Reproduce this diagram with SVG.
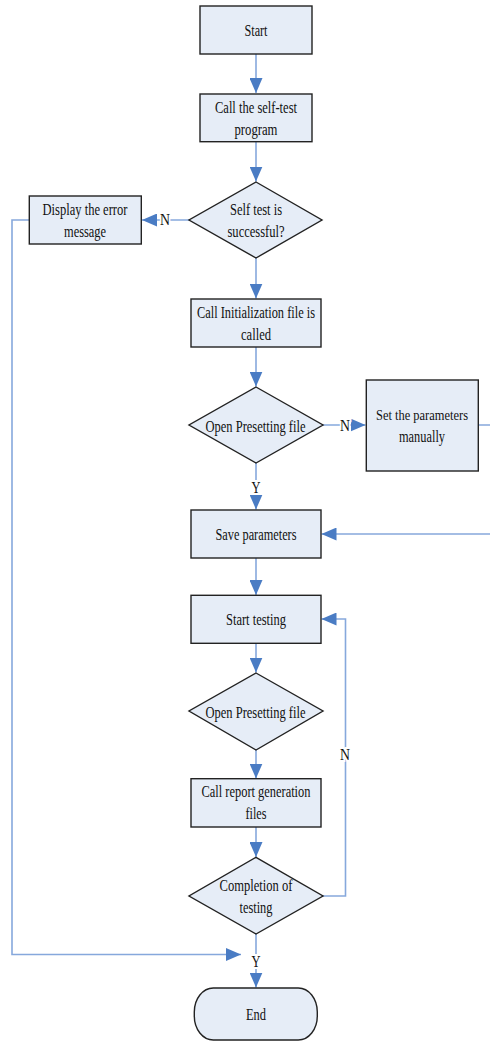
<svg xmlns="http://www.w3.org/2000/svg" width="490" height="1041" viewBox="0 0 490 1041">
<style>
.box{fill:#e6edf7;stroke:#222;stroke-width:1.4}
.t{font-family:"Liberation Serif","Times New Roman",serif;font-size:16.5px;fill:#111;text-anchor:middle}
.lbl{font-family:"Liberation Serif","Times New Roman",serif;font-size:16.5px;fill:#111;text-anchor:middle;stroke:#fff;stroke-width:4;paint-order:stroke}
.c{fill:none;stroke:#86a8dc;stroke-width:1.6}
</style>
<defs>
<marker id="ah" markerUnits="userSpaceOnUse" markerWidth="15" markerHeight="13" refX="15" refY="6.5" orient="auto">
<path d="M0,0 L15,6.5 L0,13 Z" fill="#4a7cc4"/>
</marker>
</defs>
<rect width="490" height="1041" fill="#fff"/>
<g id="connectors">
<path class="c" d="M256,54 V93" marker-end="url(#ah)"/>
<path class="c" d="M256,141.7 V181.5" marker-end="url(#ah)"/>
<path class="c" d="M189,220 H142" marker-end="url(#ah)"/>
<path class="c" d="M29,220 H12 V954.5 H241" marker-end="url(#ah)"/>
<path class="c" d="M256,258 V298.5" marker-end="url(#ah)"/>
<path class="c" d="M256,347 V386.5" marker-end="url(#ah)"/>
<path class="c" d="M323,425 H365.5" marker-end="url(#ah)"/>
<path class="c" d="M478,425 H493 V534 H321.5" marker-end="url(#ah)"/>
<path class="c" d="M256,463 V509.5" marker-end="url(#ah)"/>
<path class="c" d="M256,558 V595" marker-end="url(#ah)"/>
<path class="c" d="M256,643.3 V672.5" marker-end="url(#ah)"/>
<path class="c" d="M256,750 V778.5" marker-end="url(#ah)"/>
<path class="c" d="M256,827 V857" marker-end="url(#ah)"/>
<path class="c" d="M323,896 H345.5 V619 H321.5" marker-end="url(#ah)"/>
<path class="c" d="M256,934 V987.5" marker-end="url(#ah)"/>
<text class="lbl" x="165" y="225" textLength="10" lengthAdjust="spacingAndGlyphs">N</text>
<text class="lbl" x="345" y="430.5" textLength="10" lengthAdjust="spacingAndGlyphs">N</text>
<text class="lbl" x="256" y="493" textLength="9" lengthAdjust="spacingAndGlyphs">Y</text>
<text class="lbl" x="345" y="760" textLength="10" lengthAdjust="spacingAndGlyphs">N</text>
<text class="lbl" x="256" y="967" textLength="9" lengthAdjust="spacingAndGlyphs">Y</text>
</g>
<g id="start">
<rect class="box" x="200" y="6" width="112" height="48"/>
<text class="t" x="256" y="36" textLength="23" lengthAdjust="spacingAndGlyphs">Start</text>
</g>
<g id="selftest">
<rect class="box" x="200" y="94" width="112" height="47.7"/>
<text class="t" x="256" y="113" textLength="82" lengthAdjust="spacingAndGlyphs">Call the self-test</text>
<text class="t" x="256" y="134.5" textLength="43" lengthAdjust="spacingAndGlyphs">program</text>
</g>
<g id="selftest-ok">
<polygon class="box" points="256,182 322,220 256,258 189,220"/>
<text class="t" x="256" y="215" textLength="52" lengthAdjust="spacingAndGlyphs">Self test is</text>
<text class="t" x="256" y="236.5" textLength="57" lengthAdjust="spacingAndGlyphs">successful?</text>
</g>
<g id="error">
<rect class="box" x="29.3" y="196" width="112" height="48"/>
<text class="t" x="85" y="215" textLength="85" lengthAdjust="spacingAndGlyphs">Display the error</text>
<text class="t" x="85" y="236.5" textLength="42" lengthAdjust="spacingAndGlyphs">message</text>
</g>
<g id="init">
<rect class="box" x="191" y="299" width="130" height="48"/>
<text class="t" x="256" y="318.3" textLength="118" lengthAdjust="spacingAndGlyphs">Call Initialization file is</text>
<text class="t" x="256" y="340.3" textLength="30" lengthAdjust="spacingAndGlyphs">called</text>
</g>
<g id="open1">
<polygon class="box" points="256,387 323,425 256,463 189,425"/>
<text class="t" x="255.5" y="431.5" textLength="100" lengthAdjust="spacingAndGlyphs">Open Presetting file</text>
</g>
<g id="manual">
<rect class="box" x="366.3" y="380" width="112" height="91"/>
<text class="t" x="422" y="420" font-size="15" textLength="92" lengthAdjust="spacingAndGlyphs" style="font-size:15px">Set the parameters</text>
<text class="t" x="422" y="441.7" textLength="46" lengthAdjust="spacingAndGlyphs">manually</text>
</g>
<g id="save">
<rect class="box" x="191" y="510" width="130" height="48"/>
<text class="t" x="256" y="540" textLength="81" lengthAdjust="spacingAndGlyphs">Save parameters</text>
</g>
<g id="testing">
<rect class="box" x="191" y="595.3" width="130" height="48"/>
<text class="t" x="256" y="625" textLength="60" lengthAdjust="spacingAndGlyphs">Start testing</text>
</g>
<g id="open2">
<polygon class="box" points="256,673 323,711 256,750 189,711"/>
<text class="t" x="255.5" y="717.5" textLength="100" lengthAdjust="spacingAndGlyphs">Open Presetting file</text>
</g>
<g id="report">
<rect class="box" x="191" y="778.7" width="130" height="48.3"/>
<text class="t" x="256" y="797" textLength="109" lengthAdjust="spacingAndGlyphs">Call report generation</text>
<text class="t" x="256" y="819.3" textLength="21" lengthAdjust="spacingAndGlyphs">files</text>
</g>
<g id="completion">
<polygon class="box" points="256,857.3 323,896 256,934 189,896"/>
<text class="t" x="256" y="890.7" textLength="73" lengthAdjust="spacingAndGlyphs">Completion of</text>
<text class="t" x="256" y="912.7" textLength="33" lengthAdjust="spacingAndGlyphs">testing</text>
</g>
<g id="end">
<rect class="box" x="194.3" y="988" width="123" height="52" rx="19" ry="24"/>
<text class="t" x="256" y="1020" textLength="20" lengthAdjust="spacingAndGlyphs">End</text>
</g>
</svg>
